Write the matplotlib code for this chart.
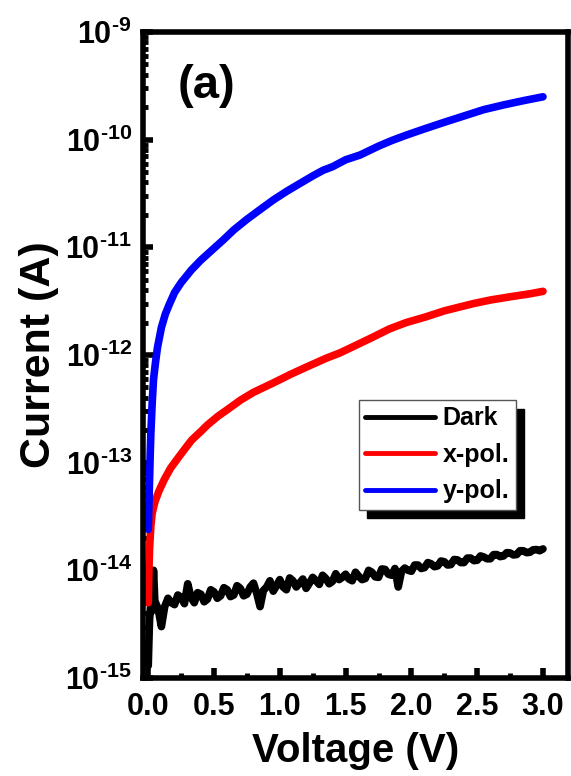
import numpy as np
import matplotlib
matplotlib.use("Agg")
import matplotlib.pyplot as plt
from matplotlib.ticker import FuncFormatter, FixedLocator, MultipleLocator

plt.rcParams['font.family'] = 'Liberation Sans'
plt.rcParams['font.weight'] = 'bold'
plt.rcParams['mathtext.fontset'] = 'custom'
plt.rcParams['mathtext.bf'] = 'Liberation Sans:bold'
plt.rcParams['mathtext.rm'] = 'Liberation Sans:bold'

# dark current vs voltage: first few points near 0 V, then the 25 mV sweep
dark_v0 = [0.0, 0.005, 0.01, 0.02, 0.03, 0.04]
dark_i0 = [1.3e-15, 2.2e-15, 3.5e-15, 5.0e-15, 4.2e-15, 1.0e-14]
sweep_v = np.round(np.arange(0.05, 3.0001, 0.025), 3)
dark_fA = [5.2, 4.4, 3.0, 4.6, 5.5, 5.0, 4.8, 5.9, 5.6, 4.9, 7.5, 5.6, 5.0, 6.2, 6.0, 5.1,
           5.4, 6.6, 6.3, 5.5, 5.8, 6.9, 6.6, 5.7, 5.9, 7.2, 6.8, 5.8, 6.0, 7.0, 7.6, 6.1,
           4.6, 6.5, 7.0, 8.0, 6.4, 7.2, 8.2, 7.0, 6.6, 8.5, 8.0, 7.0, 7.6, 8.3, 6.8, 7.6,
           8.6, 8.0, 7.4, 9.0, 8.4, 7.5, 7.9, 9.3, 8.2, 8.6, 9.2, 8.3, 8.0, 9.6, 8.8, 8.2,
           8.4, 10.0, 9.6, 8.7, 8.6, 10.3, 10.2, 9.2, 9.0, 10.4, 7.0, 9.8, 10.5, 10.0, 9.8, 11.2,
           11.2, 10.4, 10.6, 11.8, 11.5, 10.8, 11.0, 12.2, 12.0, 11.2, 11.3, 12.6, 12.5, 11.8, 11.8, 13.0,
           13.0, 12.3, 12.4, 13.6, 13.3, 12.8, 12.8, 14.0, 14.0, 13.4, 13.6, 14.6, 14.5, 13.9, 14.0, 15.2,
           15.2, 14.6, 14.7, 15.5, 15.6, 15.2, 15.8]  # in 1e-15 A

# x-polarized illumination
xpol_v = [0.0, 0.005, 0.01, 0.02, 0.03, 0.05, 0.08, 0.12, 0.17, 0.23, 0.28, 0.33, 0.40, 0.45,
          0.53, 0.60, 0.70, 0.80, 0.95, 1.08, 1.21, 1.35, 1.46, 1.56, 1.70, 1.83, 1.96,
          2.10, 2.25, 2.47, 2.60, 2.75, 2.90, 3.00]
xpol_i = [5.0e-15, 1.0e-14, 1.6e-14, 2.6e-14, 3.4e-14, 4.3e-14, 5.4e-14, 6.9e-14, 8.9e-14, 1.12e-13, 1.35e-13, 1.62e-13, 1.95e-13, 2.24e-13,
          2.7e-13, 3.1e-13, 3.8e-13, 4.5e-13, 5.5e-13, 6.6e-13, 7.8e-13, 9.3e-13, 1.05e-12, 1.2e-12, 1.45e-12, 1.74e-12, 2.0e-12,
          2.24e-12, 2.57e-12, 3.0e-12, 3.24e-12, 3.47e-12, 3.7e-12, 3.9e-12]

# y-polarized illumination
ypol_v = [0.0, 0.005, 0.01, 0.015, 0.02, 0.03, 0.04, 0.055, 0.07, 0.10, 0.13, 0.16, 0.20, 0.25,
          0.33, 0.40, 0.50, 0.57, 0.65, 0.75, 0.85, 0.95, 1.05, 1.15, 1.25, 1.33, 1.40, 1.50,
          1.61, 1.75, 1.85, 1.96, 2.10, 2.25, 2.40, 2.55, 2.70, 2.85, 3.00]
ypol_i = [2.4e-14, 4.0e-14, 7.0e-14, 1.2e-13, 1.9e-13, 3.6e-13, 5.9e-13, 8.5e-13, 1.17e-12, 1.8e-12, 2.4e-12, 2.95e-12, 3.8e-12, 4.7e-12,
          6.2e-12, 7.6e-12, 9.8e-12, 1.17e-11, 1.45e-11, 1.82e-11, 2.24e-11, 2.75e-11, 3.3e-11, 3.9e-11, 4.6e-11, 5.2e-11, 5.6e-11, 6.5e-11,
          7.2e-11, 8.7e-11, 9.8e-11, 1.1e-10, 1.26e-10, 1.45e-10, 1.66e-10, 1.9e-10, 2.1e-10, 2.3e-10, 2.5e-10]

y_decades = [-15, -14, -13, -12, -11, -10, -9]

dark_v = np.concatenate([dark_v0, sweep_v])
dark_i = np.concatenate([dark_i0, np.array(dark_fA) * 1e-15])

fig = plt.figure(figsize=(5.71, 7.76), dpi=100)
ax = fig.add_axes([0.2504, 0.1263, 0.7443, 0.8325])

ax.plot(dark_v, dark_i, color='black', lw=5.5, solid_joinstyle='round', solid_capstyle='round', label='Dark')
ax.plot(xpol_v, xpol_i, color='#ff0000', lw=5.5, solid_joinstyle='round', solid_capstyle='round', label='x-pol.')
ax.plot(ypol_v, ypol_i, color='#0000ff', lw=5.5, solid_joinstyle='round', solid_capstyle='round', label='y-pol.')

ax.set_yscale('log')
ax.set_xlim(-0.04, 3.19)
ax.set_ylim(1e-15, 1e-9)

ax.xaxis.set_major_locator(MultipleLocator(0.5))
ax.xaxis.set_minor_locator(MultipleLocator(0.25))
major_y = [10.0 ** d for d in y_decades]
minor_y = [m * 10.0 ** d for d in y_decades[:-1] for m in range(2, 10)]
ax.yaxis.set_major_locator(FixedLocator(major_y))
ax.yaxis.set_minor_locator(FixedLocator(minor_y))
ax.yaxis.set_major_formatter(FuncFormatter(lambda v, p: r'$10^{\text{-%d}}$' % abs(round(np.log10(v)))))
ax.yaxis.set_minor_formatter(FuncFormatter(lambda v, p: ''))
ax.xaxis.set_major_formatter(FuncFormatter(lambda v, p: '%.1f' % v))

for s in ax.spines.values():
    s.set_linewidth(4)
ax.tick_params(which='major', direction='in', length=7, width=4, labelsize=22, pad=8)
ax.tick_params(which='minor', direction='in', length=3.5, width=3.5)
ax.tick_params(axis='x', which='major', pad=10)

ax.set_xlabel('Voltage (V)', fontsize=29, fontweight='bold', labelpad=7)
ax.set_ylabel('Current (A)', fontsize=31, fontweight='bold', labelpad=4)

ax.text(0.082, 0.917, '(a)', transform=ax.transAxes, fontsize=34, fontweight='bold',
        ha='left', va='center')

leg = ax.legend(loc='upper left', bbox_to_anchor=(0.508, 0.43), borderaxespad=0,
                fontsize=18, fancybox=False, frameon=True, handlelength=2.8,
                handletextpad=0.3, labelspacing=0.5, borderpad=0.25,
                shadow={'color': 'black', 'alpha': 1, 'ox': 6, 'oy': -6})
leg.get_frame().set_edgecolor('#555555')
leg.get_frame().set_linewidth(1)
for ln in leg.get_lines():
    ln.set_linewidth(3.5)
for t in leg.get_texts():
    t.set_fontweight('bold')

fig.savefig('out.png', dpi=100)
